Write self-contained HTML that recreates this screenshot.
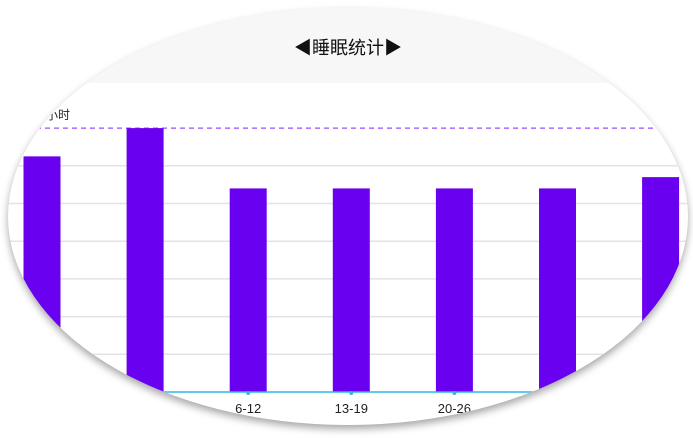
<!DOCTYPE html>
<html><head><meta charset="utf-8">
<style>
html,body{margin:0;padding:0;background:#fff;width:693px;height:438px;overflow:hidden}
#oval{position:absolute;left:8px;top:8px;width:680px;height:417px;border-radius:50%;overflow:hidden;background:#fff;box-shadow:0 4px 8px rgba(0,0,0,0.35)}
#oval svg{position:absolute;left:-8px;top:-8px}
text{font-family:"Liberation Sans","Noto Sans CJK SC",sans-serif}
</style></head><body>
<div id="oval">
<svg id="chart" width="693" height="438">
  <rect x="0" y="0" width="693" height="83" fill="#f7f7f7"/>
  <text x="348" y="54" text-anchor="middle" font-size="18" fill="#111">◀睡眠统计▶</text>
  <text x="46" y="119" font-size="12" fill="#222">小时</text>
  <g id="grid"></g>
  <g id="bars"></g>
  <g id="xlabels"></g>
</svg>
</div>
<script>
const categories = ["22-28","29-5","6-12","13-19","20-26","27-2","3-9"];
const sleepHours = [6.25, 7.0, 5.4, 5.4, 5.4, 5.4, 5.7];
const gridValues = [1,2,3,4,5,6];
const targetHours = 7;

const NS = "http://www.w3.org/2000/svg";
const baseY = 392, unit = 37.7, x0 = 42, step = 103.1, barW = 37;
const y = v => baseY - v * unit;
const x = i => x0 + i * step;
function mk(tag, attrs, parent){const e=document.createElementNS(NS,tag);for(const k in attrs)e.setAttribute(k,attrs[k]);parent.appendChild(e);return e;}

const grid = document.getElementById('grid');
gridValues.forEach(v=>{
  const l = mk('line',{x1:0,x2:693,y1:y(v),y2:y(v),stroke:'#e3e3e3','stroke-width':1.5},grid);
  
  
});
const t = mk('line',{x1:0,x2:693,y1:y(targetHours),y2:y(targetHours),stroke:'#9b4dff','stroke-width':1.2,'stroke-dasharray':'5,4'},grid);



const bars = document.getElementById('bars');
sleepHours.forEach((v,i)=>{
  const r = mk('rect',{x:x(i)-barW/2,y:y(v),width:barW,height:baseY-y(v),fill:'#6a00f0'},bars);
  
  
});
const ax = mk('line',{x1:0,x2:693,y1:baseY,y2:baseY,stroke:'#2fb8e8','stroke-width':1.5},bars);



const xl = document.getElementById('xlabels');
categories.forEach((c,i)=>{
  const tk = mk('circle',{cx:x(i),cy:baseY+1,r:2,fill:'#2fb8e8'},xl);
  
  
  const tx = mk('text',{x:x(i),y:413,'text-anchor':'middle','font-size':13,fill:'#222'},xl);
  tx.textContent = c;
  
  
});
</script>
</body></html>
